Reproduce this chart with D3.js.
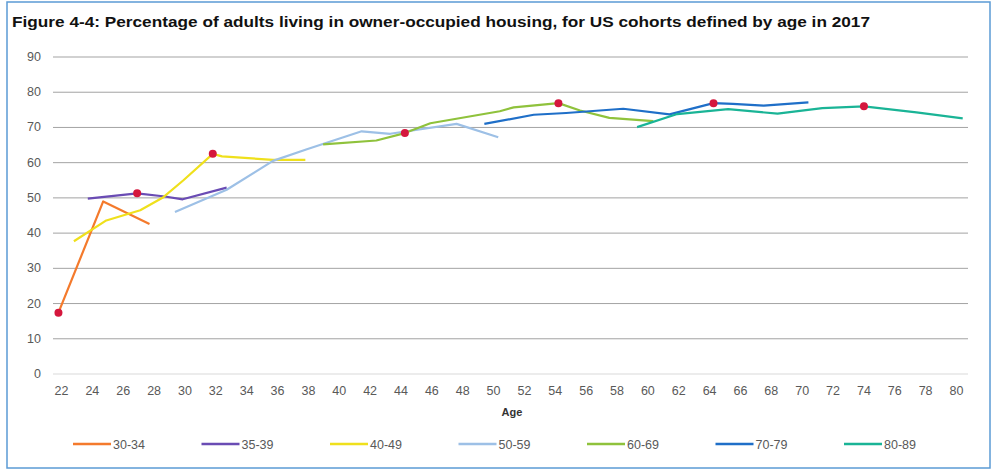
<!DOCTYPE html>
<meta charset="utf-8">
<style>
body { margin: 0; background: #fff; }
text { font-family: "Liberation Sans", Arial, sans-serif; }
</style>
<body>
<script src="https://cdn.jsdelivr.net/npm/d3@7"></script>
<script>

// cohorts (age in 2017) and their colours
var cohorts = ["30-34", "35-39", "40-49", "50-59", "60-69", "70-79", "80-89"];
var colors = ["#f47a2c", "#6a4cb4", "#efe01c", "#9dc0e6", "#8fc23c", "#1f6fc8", "#1ab496"];

// ages / values
var ages3034 = [21.9, 24.8, 27.8];
var vals3034 = [17.4, 49.0, 42.6];
var ages3539 = [23.8, 27.0, 28.8, 29.95, 32.8];
var vals3539 = [49.8, 51.3, 50.4, 49.6, 52.9];
var ages4049 = [22.9, 25.0, 27.2, 28.7, 30.0, 31.9, 32.5, 35.8, 37.9];
var vals4049 = [37.7, 43.6, 46.5, 50.2, 55.0, 62.5, 61.8, 60.8, 60.8];
var ages5059 = [29.45, 32.8, 35.8, 38.0, 41.55, 43.4, 47.7, 50.4];
var vals5059 = [46.0, 52.3, 60.5, 63.8, 68.9, 68.2, 71.0, 67.2];
var ages6069 = [39.05, 42.5, 44.35, 46.0, 50.5, 51.4, 54.3, 55.7, 57.6, 60.45];
var vals6069 = [65.2, 66.3, 68.4, 71.2, 74.6, 75.7, 76.9, 74.8, 72.7, 71.8];
var ages7079 = [49.5, 52.7, 54.8, 58.5, 61.5, 64.35, 65.6, 67.6, 70.5];
var vals7079 = [71.0, 73.6, 74.1, 75.3, 73.7, 76.9, 76.7, 76.2, 77.1];
var ages8089 = [59.4, 62.0, 65.3, 68.5, 71.4, 74.1, 77.5, 80.5];
var vals8089 = [70.1, 73.8, 75.2, 73.9, 75.5, 76.0, 74.3, 72.6];

// red markers (one per cohort)
var markerAges = [21.9, 27.0, 31.9, 44.35, 54.3, 64.35, 74.1];
var markerVals = [17.4, 51.3, 62.5, 68.4, 76.9, 76.9, 76.0];

var xTicks = d3.range(22, 81, 2);
var yTicks = d3.range(0, 91, 10);

var title = "Figure 4-4: Percentage of adults living in owner-occupied housing, for US cohorts defined by age in 2017";

var width = 991,
    height = 472;

var svg = d3.select("body").append("svg")
    .attr("width", width)
    .attr("height", height);

// outer frame
svg.append("rect")
    .attr("x", 7).attr("y", 2)
    .attr("width", 983).attr("height", 466)
    .attr("fill", "#fff")
    .attr("stroke", "#5b9bd5")
    .attr("stroke-width", 1.5);

svg.append("text")
    .attr("x", 12).attr("y", 27)
    .attr("font-size", 15)
    .attr("font-weight", "bold")
    .attr("fill", "#111")
    .attr("textLength", 858)
    .attr("lengthAdjust", "spacingAndGlyphs")
    .text(title);

var x = d3.scaleLinear().domain([22, 80]).range([60, 955]);
var y = d3.scaleLinear().domain([0, 90]).range([374, 57]);

var gridL = 53, gridR = 968;

// gridlines
svg.append("g").selectAll("line")
    .data(yTicks)
    .enter().append("line")
    .attr("x1", gridL).attr("x2", gridR)
    .attr("y1", function(d) { return y(d); })
    .attr("y2", function(d) { return y(d); })
    .attr("stroke", function(d) { return d === 0 ? "#d9d9d9" : "#a3a3a3"; })
    .attr("stroke-width", 1);

// y labels
svg.append("g").selectAll("text")
    .data(yTicks)
    .enter().append("text")
    .attr("x", 41)
    .attr("y", function(d) { return y(d) + 4; })
    .attr("text-anchor", "end")
    .attr("font-size", 12.5)
    .attr("fill", "#595959")
    .text(function(d) { return d; });

// x labels
svg.append("g").selectAll("text")
    .data(xTicks)
    .enter().append("text")
    .attr("x", function(d) { return x(d) + 1.5; })
    .attr("y", 395)
    .attr("text-anchor", "middle")
    .attr("font-size", 12.5)
    .attr("fill", "#595959")
    .text(function(d) { return d; });

svg.append("text")
    .attr("x", 512).attr("y", 416)
    .attr("text-anchor", "middle")
    .attr("font-size", 11)
    .attr("font-weight", "bold")
    .attr("fill", "#333")
    .text("Age");

var series = [
  [ages3034, vals3034], [ages3539, vals3539], [ages4049, vals4049],
  [ages5059, vals5059], [ages6069, vals6069], [ages7079, vals7079],
  [ages8089, vals8089]
];

var line = d3.line()
    .x(function(d) { return x(d[0]); })
    .y(function(d) { return y(d[1]); });

svg.append("g").selectAll("path")
    .data(series)
    .enter().append("path")
    .attr("d", function(s) { return line(d3.zip(s[0], s[1])); })
    .attr("fill", "none")
    .attr("stroke", function(s, i) { return colors[i]; })
    .attr("stroke-width", 2.2)
    .attr("stroke-linejoin", "round");

svg.append("g").selectAll("circle")
    .data(d3.zip(markerAges, markerVals))
    .enter().append("circle")
    .attr("cx", function(d) { return x(d[0]); })
    .attr("cy", function(d) { return y(d[1]); })
    .attr("r", 4)
    .attr("fill", "#d5173d");

// legend
var legend = svg.append("g").selectAll("g")
    .data(cohorts)
    .enter().append("g")
    .attr("transform", function(d, i) { return "translate(" + (73 + i * 128.5) + ",444)"; });

legend.append("line")
    .attr("x1", 0).attr("x2", 38)
    .attr("stroke", function(d, i) { return colors[i]; })
    .attr("stroke-width", 2.5);

legend.append("text")
    .attr("x", 40).attr("y", 4.5)
    .attr("font-size", 12.5)
    .attr("fill", "#595959")
    .text(function(d) { return d; });

</script>
